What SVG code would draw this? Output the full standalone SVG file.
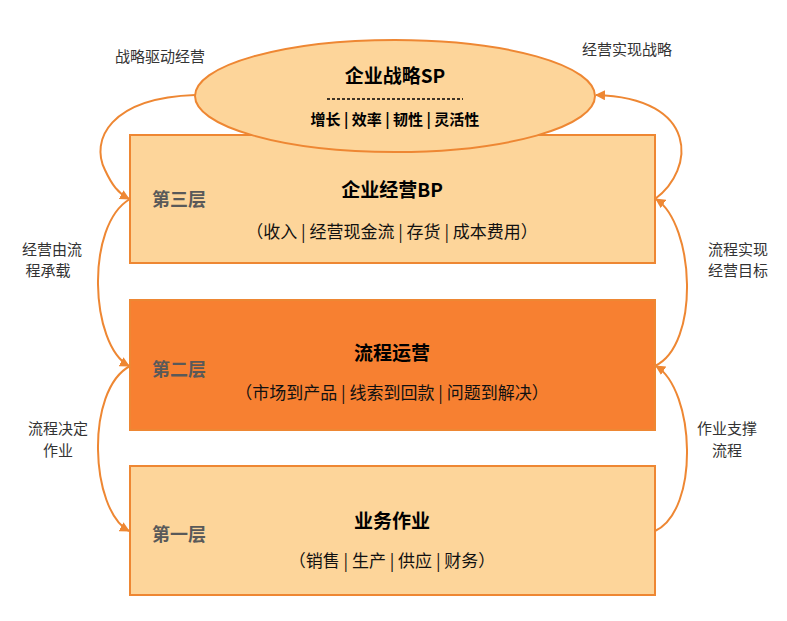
<svg xmlns="http://www.w3.org/2000/svg" width="787" height="621" viewBox="0 0 787 621">
<defs>
<style>
text{font-family:"Noto Sans CJK SC","Liberation Sans",sans-serif}
.box{stroke:#EE8733;stroke-width:2}
.t{font-size:19px;font-weight:bold;fill:#000;text-anchor:middle}
.s{font-size:17px;fill:#111;text-anchor:middle}
.l{font-size:18px;font-weight:bold;fill:#595959}
.c{font-size:15px;fill:#333;text-anchor:middle}
.cn{fill:none;stroke:#EE8733;stroke-width:2}
</style>
<marker id="a" viewBox="0 0 10 10" refX="9" refY="5" markerWidth="5" markerHeight="5" orient="auto"><path d="M0,0L10,5L0,10z" fill="#EE8733"/></marker>
</defs>
<g id="n3"><rect class="box" x="130" y="135" width="525" height="128" fill="#FDD59A"/><text class="l" x="152" y="206">第三层</text><text class="t" x="392" y="197">企业经营BP</text><text class="s" x="392" y="238">（收入 | 经营现金流 | 存货 | 成本费用）</text></g>
<g id="n2"><rect class="box" x="130" y="300" width="525" height="130" fill="#F78031"/><text class="l" x="152" y="376">第二层</text><text class="t" x="392" y="360">流程运营</text><text class="s" x="392" y="399">（市场到产品 | 线索到回款 | 问题到解决）</text></g>
<g id="n1"><rect class="box" x="130" y="466" width="525" height="129" fill="#FDD59A"/><text class="l" x="152" y="541">第一层</text><text class="t" x="392" y="528">业务作业</text><text class="s" x="392" y="567">（销售 | 生产 | 供应 | 财务）</text></g>
<g id="sp"><ellipse class="box" cx="395" cy="96" rx="200" ry="56" fill="#FDD59A"/><text class="t" x="395" y="83">企业战略SP</text><line x1="327" y1="99" x2="463" y2="99" stroke="#000" stroke-width="1.5" stroke-dasharray="3,2"/><text x="395" y="125" text-anchor="middle" font-size="15" font-weight="bold">增长 | 效率 | 韧性 | 灵活性</text></g>
<g id="connectors">
<path class="cn" d="M195,95 C110,98 90,140 105,170 C112,185 118,193 129,199" marker-end="url(#a)"/>
<path class="cn" d="M130,199 C85,225 90,345 129,366" marker-end="url(#a)"/>
<path class="cn" d="M130,366 C85,390 90,510 129,531" marker-end="url(#a)"/>
<path class="cn" d="M655,531 C700,510 695,390 656,366" marker-end="url(#a)"/>
<path class="cn" d="M655,366 C700,345 695,225 656,199" marker-end="url(#a)"/>
<path class="cn" d="M655,199 C695,170 700,98 596,95" marker-end="url(#a)"/>
</g>
<g id="labels">
<text class="c" x="160" y="62">战略驱动经营</text>
<text class="c" x="627" y="55">经营实现战略</text>
<text class="c" x="52" y="255">经营由流</text><text class="c" x="48" y="276">程承载</text>
<text class="c" x="738" y="255">流程实现</text><text class="c" x="738" y="276">经营目标</text>
<text class="c" x="58" y="434">流程决定</text><text class="c" x="58" y="456">作业</text>
<text class="c" x="727" y="434">作业支撑</text><text class="c" x="727" y="456">流程</text>
</g>
</svg>
